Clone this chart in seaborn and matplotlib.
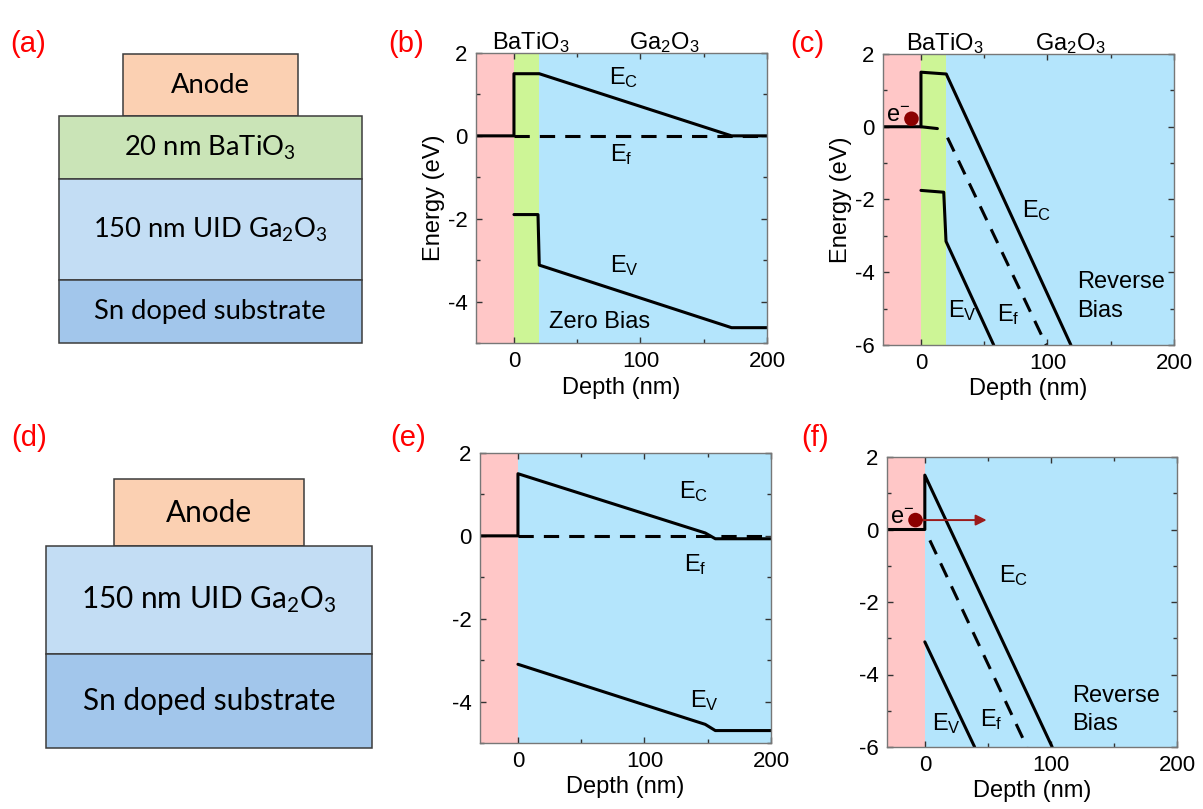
import matplotlib
matplotlib.use("Agg")
import matplotlib.pyplot as plt
from matplotlib.patches import Rectangle
from matplotlib.ticker import MultipleLocator
import seaborn as sns

# ---------------- band-edge profiles (depth in nm, energy in eV) ----------------
# (b) BaTiO3 / Ga2O3, zero bias
b_ec_x = [-30, 0, 0, 20, 172, 200]
b_ec_y = [0, 0, 1.5, 1.5, 0.0, 0.0]
b_ef_x = [0, 200]
b_ef_y = [0, 0]
b_ev_x = [0, 19, 20, 172, 200]
b_ev_y = [-1.9, -1.9, -3.12, -4.63, -4.63]

# (c) BaTiO3 / Ga2O3, reverse bias
c_ec_x = [-30, 0, 0, 20, 118.5]
c_ec_y = [0, 0, 1.5, 1.45, -6]
c_fb_x = [0, 13]
c_fb_y = [0, -0.05]
c_ef_x = [21, 99]
c_ef_y = [-0.3, -6]
c_ev_x = [0, 18, 19.8, 57.5]
c_ev_y = [-1.75, -1.8, -3.15, -6]

# (e) Ga2O3 only, zero bias
e_ec_x = [-30, 0, 0, 148, 156, 200]
e_ec_y = [0, 0, 1.5, 0.07, -0.07, -0.07]
e_ef_x = [0, 200]
e_ef_y = [0, 0]
e_ev_x = [0, 148, 156, 200]
e_ev_y = [-3.1, -4.55, -4.7, -4.7]

# (f) Ga2O3 only, reverse bias
f_ec_x = [-30, 0, 0, 101]
f_ec_y = [0, 0, 1.5, -6]
f_ef_x = [4, 81]
f_ef_y = [-0.3, -6]
f_ev_x = [0, 39.5]
f_ev_y = [-3.1, -6]

# electron position (depth, energy) and arrow tip in (f)
c_electron = (-7.5, 0.22)
f_electron = (-7.4, 0.26)
f_arrow_tip = (49, 0.26)

# region boundaries (nm)
metal_span = (-30, 0)
btO_span = (0, 20)

# ---------------- device layer stacks ----------------
stack_a_names = ["Anode", "20 nm BaTiO$_\\mathsf{3}$", "150 nm UID Ga$_\\mathsf{2}$O$_\\mathsf{3}$",
                 "Sn doped substrate"]
stack_a_colors = ["#FBD0B2", "#CAE4B7", "#C3DDF4", "#A2C6EB"]
stack_a_heights = [62, 63, 101, 63]
stack_a_widths = [175, 303, 303, 303]

stack_d_names = ["Anode", "150 nm UID Ga$_\\mathsf{2}$O$_\\mathsf{3}$", "Sn doped substrate"]
stack_d_colors = ["#FBD0B2", "#C3DDF4", "#A2C6EB"]
stack_d_heights = [67, 108, 94]
stack_d_widths = [190, 326, 326]

PINK = "#FFC7C7"
GREEN = "#CDF596"
BLUE = "#B4E5FC"

sns.set_theme(style="ticks")
plt.rcParams["font.family"] = ["Liberation Sans", "DejaVu Sans"]
plt.rcParams["mathtext.fontset"] = "custom"
plt.rcParams["mathtext.rm"] = "Liberation Sans"
plt.rcParams["mathtext.it"] = "Liberation Sans:italic"
plt.rcParams["mathtext.sf"] = "Lato"
plt.rcParams["axes.unicode_minus"] = False
for key in ["text.color", "axes.labelcolor", "xtick.labelcolor", "ytick.labelcolor"]:
    plt.rcParams[key] = "black"

W, H = 1203, 809
fig = plt.figure(figsize=(W / 100, H / 100), dpi=100)


def px_axes(left, top, right, bottom):
    return fig.add_axes([left / W, 1 - bottom / H, (right - left) / W, (bottom - top) / H])


LW = 2.2
DASH = (0, (5, 3.3))
FS = 17


def band(ax, x, y, dashed=False):
    kw = dict(x=x, y=y, ax=ax, sort=False, estimator=None, color="black", lw=LW)
    if dashed:
        kw["linestyle"] = DASH
    sns.lineplot(**kw)


def style(ax, ymin, with_ylabel):
    ax.set_xlim(-30, 200)
    ax.set_ylim(ymin, 2)
    ax.set_xticks([0, 100, 200])
    ax.xaxis.set_minor_locator(MultipleLocator(50))
    ax.set_yticks(list(range(2, ymin - 1, -2)))
    ax.yaxis.set_minor_locator(MultipleLocator(1))
    ax.tick_params(which="both", direction="in", top=True, right=True,
                   color="#333333", labelcolor="black", labelsize=16, pad=6, width=1)
    ax.tick_params(which="major", length=4)
    ax.tick_params(which="minor", length=3)
    for s in ax.spines.values():
        s.set_color("#777777")
        s.set_linewidth(1.0)
    ax.set_xlabel("Depth (nm)", fontsize=FS, labelpad=3, color="black")
    if with_ylabel:
        ax.set_ylabel("Energy (eV)", fontsize=FS, labelpad=2, color="black")
    else:
        ax.set_ylabel("")


def shade(ax, with_bto):
    ax.axvspan(*metal_span, color=PINK, lw=0, zorder=0)
    if with_bto:
        ax.axvspan(*btO_span, color=GREEN, lw=0, zorder=0)
        ax.axvspan(btO_span[1], 200, color=BLUE, lw=0, zorder=0)
    else:
        ax.axvspan(metal_span[1], 200, color=BLUE, lw=0, zorder=0)


def top_labels(ax, x_bto, x_ga):
    tr = ax.get_xaxis_transform()
    ax.text(x_bto, 1.012, "BaTiO$_3$", transform=tr, ha="center", va="baseline", fontsize=FS)
    ax.text(x_ga, 1.012, "Ga$_2$O$_3$", transform=tr, ha="center", va="baseline", fontsize=FS)


def electron(ax, pos):
    sns.scatterplot(x=[pos[0]], y=[pos[1]], ax=ax, s=110, color="#8B0000",
                    edgecolor="none", zorder=5)
    ax.text(pos[0] - 20.3, pos[1] - 0.1, "e$^{-}$", fontsize=FS, ha="left", va="baseline")


# ---------------- (b) ----------------
ax_b = px_axes(476, 53, 767, 343)
shade(ax_b, True)
band(ax_b, b_ec_x, b_ec_y)
band(ax_b, b_ef_x, b_ef_y, dashed=True)
band(ax_b, b_ev_x, b_ev_y)
style(ax_b, -5, True)
top_labels(ax_b, 13.6, 118.8)
ax_b.text(75, 1.26, "E$_\\mathrm{C}$", fontsize=FS, va="baseline")
ax_b.text(76, -0.61, "E$_\\mathrm{f}$", fontsize=FS, va="baseline")
ax_b.text(75.7, -3.29, "E$_\\mathrm{V}$", fontsize=FS, va="baseline")
ax_b.text(27.8, -4.64, "Zero Bias", fontsize=FS, va="baseline")

# ---------------- (c) ----------------
ax_c = px_axes(883, 54, 1174, 345)
shade(ax_c, True)
band(ax_c, c_ec_x, c_ec_y)
band(ax_c, c_fb_x, c_fb_y)
band(ax_c, c_ef_x, c_ef_y, dashed=True)
band(ax_c, c_ev_x, c_ev_y)
style(ax_c, -6, True)
top_labels(ax_c, 18.9, 117.7)
electron(ax_c, c_electron)
ax_c.text(80.2, -2.48, "E$_\\mathrm{C}$", fontsize=FS, va="baseline")
ax_c.text(21.1, -5.24, "E$_\\mathrm{V}$", fontsize=FS, va="baseline")
ax_c.text(60, -5.35, "E$_\\mathrm{f}$", fontsize=FS, va="baseline")
ax_c.text(123.8, -4.43, "Reverse", fontsize=FS, va="baseline")
ax_c.text(123.8, -5.24, "Bias", fontsize=FS, va="baseline")

# ---------------- (e) ----------------
ax_e = px_axes(480, 453, 771, 743)
shade(ax_e, False)
band(ax_e, e_ec_x, e_ec_y)
band(ax_e, e_ef_x, e_ef_y, dashed=True)
band(ax_e, e_ev_x, e_ev_y)
style(ax_e, -5, False)
ax_e.text(127.5, 0.91, "E$_\\mathrm{C}$", fontsize=FS, va="baseline")
ax_e.text(131, -0.86, "E$_\\mathrm{f}$", fontsize=FS, va="baseline")
ax_e.text(135.7, -4.14, "E$_\\mathrm{V}$", fontsize=FS, va="baseline")

# ---------------- (f) ----------------
ax_f = px_axes(887, 457, 1177, 747)
shade(ax_f, False)
band(ax_f, f_ec_x, f_ec_y)
band(ax_f, f_ef_x, f_ef_y, dashed=True)
band(ax_f, f_ev_x, f_ev_y)
style(ax_f, -6, False)
ax_f.annotate("", xy=f_arrow_tip, xytext=f_electron,
              arrowprops=dict(arrowstyle="-|>", color="#9B1B1B", lw=1.4,
                              mutation_scale=16, shrinkA=0, shrinkB=0), zorder=4)
electron(ax_f, f_electron)
ax_f.text(58.5, -1.44, "E$_\\mathrm{C}$", fontsize=FS, va="baseline")
ax_f.text(5.8, -5.53, "E$_\\mathrm{V}$", fontsize=FS, va="baseline")
ax_f.text(43.5, -5.42, "E$_\\mathrm{f}$", fontsize=FS, va="baseline")
ax_f.text(117, -4.75, "Reverse", fontsize=FS, va="baseline")
ax_f.text(117, -5.53, "Bias", fontsize=FS, va="baseline")

# ---------------- (a), (d) layer stacks, drawn in pixel space ----------------
ax_s = fig.add_axes([0, 0, 1, 1], zorder=-1)
ax_s.set_xlim(0, W)
ax_s.set_ylim(H, 0)
ax_s.axis("off")


def stack(names, colors, heights, widths, cx, top, fs):
    y = top
    for name, col, h, w in zip(names, colors, heights, widths):
        ax_s.add_patch(Rectangle((cx - w / 2, y), w, h, facecolor=col,
                                 edgecolor="#3C3C3C", lw=1.1))
        ax_s.text(cx, y + h / 2, name, ha="center", va="center", fontsize=fs,
                  family="Lato", color="black")
        y += h


stack(stack_a_names, stack_a_colors, stack_a_heights, stack_a_widths, 210, 54, 19.7)
stack(stack_d_names, stack_d_colors, stack_d_heights, stack_d_widths, 209, 479, 21.4)

# ---------------- panel letters ----------------
letters = ["(a)", "(b)", "(c)", "(d)", "(e)", "(f)"]
letter_px = [(10, 44), (388, 44), (790, 44), (11, 438), (390, 438), (801, 438)]
for lab, (x, y) in zip(letters, letter_px):
    fig.text(x / W, 1 - y / H, lab, color="red", fontsize=21, ha="left", va="center")

fig.savefig("out.png", dpi=100)
